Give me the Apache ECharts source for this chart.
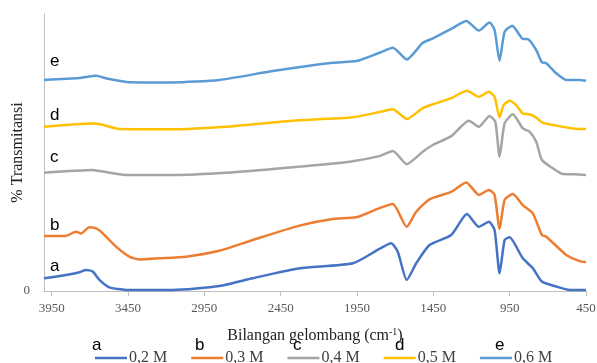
<!doctype html>
<html>
<head>
    <meta charset="utf-8">
    <title>ftir</title>
    <style>
        html,body{margin:0;padding:0;background:#fff;}
        #ID-Chart{width:597px;height:363px;}
    </style>
</head>
<body>
    <div id="ID-Chart"></div>
    <script src="https://cdn.jsdelivr.net/npm/echarts@6/dist/echarts.min.js"></script>
    <script>
        //数据 - bilangan gelombang / transmitansi per kurva
        var waveA=[4000,3856,3768,3725,3681,3637,3572,3462,3157,2851,2633,2327,1977,1803,1726,1683,1624,1562,1475,1333,1230,1152,1086,1049,1016,983,951,864,798,739,645,557,450];
        var transA=[4.6,5.8,6.8,7.6,7.0,4.0,1.3,0.4,0.4,1.8,4.6,8.2,10.0,15.2,17.2,14.2,4.0,10.0,16.6,20.2,27.8,23.2,25.0,22.0,6.4,18.4,19.4,11.8,8.2,3.4,1.6,0.4,0.4];

        var waveB=[4000,3856,3790,3757,3703,3659,3626,3528,3441,3376,3244,3069,2851,2633,2327,2109,1955,1803,1715,1624,1562,1475,1333,1234,1152,1086,1049,1016,983,929,864,798,739,710,579,492,450];
        var transB=[19.9,19.9,21.4,20.8,23.0,22.6,21.4,16.0,12.4,11.4,11.8,12.4,14.5,18.4,23.6,26.0,26.6,29.9,31.4,23.2,28.6,33.1,35.8,39.2,34.7,36.5,34.7,22.4,32.9,35.0,31.0,28.0,20.2,19.6,13.0,10.8,10.4];

        var waveC=[4000,3681,3637,3462,3157,2807,2392,1999,1803,1715,1624,1519,1453,1333,1217,1152,1082,1044,1016,983,929,864,820,776,739,667,601,492,450];
        var transC=[42.7,43.7,43.3,41.9,41.9,42.7,44.6,46.7,48.7,50.5,45.8,50.3,52.7,55.9,61.5,59.3,63.2,61.1,48.5,60.5,63.8,58.7,57.5,53.9,47.3,44.3,42.2,42.1,41.9];

        var waveD=[4000,3681,3637,3506,3157,2807,2392,1977,1803,1715,1624,1519,1453,1333,1230,1152,1086,1049,1016,990,951,907,864,820,776,736,645,536,450];
        var transD=[59.3,60.5,60.3,58.5,58.4,59.3,61.4,62.7,64.6,65.6,62.1,66.0,67.4,69.6,72.3,70.1,71.9,70.1,62.7,67.1,68.7,67.1,64.1,63.8,62.6,60.8,59.7,58.7,58.5];

        var waveE=[4000,3768,3659,3594,3441,3157,2851,2502,2109,1953,1803,1715,1624,1519,1453,1333,1234,1152,1082,1049,1016,983,933,864,831,776,739,710,645,579,492,450];
        var transE=[76.2,76.9,77.7,76.8,75.4,75.3,76.2,79.4,82.4,83.0,86.0,87.8,83.6,89.6,91.2,94.6,97.5,94.0,96.9,94.2,83.1,93.6,95.8,91.0,90.9,87.0,82.6,82.2,78.6,76.2,76.2,75.9];

        //nama seri, huruf kurva, warna
        var seriesNames=['0,2 M','0,3 M','0,4 M','0,5 M','0,6 M'];
        var curveLetters=['a','b','c','d','e'];
        var xTicks=[3950,3450,2950,2450,1950,1450,950,450];
        var colorList=['#4472C4','#ED7D31','#A5A5A5','#FFC000','#5B9BD5'];

        function pairs(xs,ys){
            var out=[];
            for(var i=0;i<xs.length;i++){ out.push([xs[i],ys[i]]); }
            return out;
        }
        var curves=[pairs(waveA,transA),pairs(waveB,transB),pairs(waveC,transC),pairs(waveD,transD),pairs(waveE,transE)];

        var chart=echarts.init(document.getElementById('ID-Chart'));

        var series=[];
        for(var i=0;i<curves.length;i++){
            series.push({
                name:seriesNames[i],
                type:'line',
                data:curves[i],
                symbol:'none',
                smooth:0.2,
                lineStyle:{width:2.5,color:colorList[i]},
                itemStyle:{color:colorList[i]}
            });
        }

        //huruf pada kurva (kiri) dan di atas legenda
        var curveLabelPos=[[55,268],[55,227],[55,159],[55,117],[55,63]];
        var legendLetterPos=[[97,347],[200,347],[298,347],[400,347],[500,347]];
        var graphics=[];
        for(var j=0;j<curveLetters.length;j++){
            graphics.push({type:'text',left:curveLabelPos[j][0]-5,top:curveLabelPos[j][1]-10,
                style:{text:curveLetters[j],font:'17px "Liberation Sans", sans-serif',fill:'#000'}});
            graphics.push({type:'text',left:legendLetterPos[j][0]-5,top:legendLetterPos[j][1]-10,
                style:{text:curveLetters[j],font:'17px "Liberation Sans", sans-serif',fill:'#000'}});
        }

        var option={
            animation:false,
            color:colorList,
            grid:{left:44,right:11,top:14,bottom:72,containLabel:false,outerBoundsMode:'none'},
            legend:{
                data:seriesNames,
                selectedMode:false,
                icon:'rect',
                left:90,
                top:345,
                itemWidth:32,
                itemHeight:2.5,
                itemGap:24,
                textStyle:{fontFamily:'"Liberation Serif", serif',fontSize:16,color:'#404040',padding:[0,0,0,-3]}
            },
            xAxis:{
                type:'value',
                inverse:true,
                min:450,
                max:4000,
                name:'{t|Bilangan gelombang (cm}{s|-1}{t|)}',
                nameLocation:'middle',
                nameGap:36,
                nameMoveOverlap:false,
                nameTextStyle:{
                    rich:{
                        t:{fontFamily:'"Liberation Serif", serif',fontSize:16,color:'#222'},
                        s:{fontFamily:'"Liberation Serif", serif',fontSize:10,color:'#222',verticalAlign:'top',padding:[0,0,8,0]}
                    }
                },
                axisLine:{show:true,lineStyle:{color:'#bfbfbf',width:1}},
                axisTick:{show:true,length:5,customValues:xTicks,lineStyle:{color:'#bfbfbf'}},
                axisLabel:{
                    customValues:xTicks,margin:11,
                    fontFamily:'"Liberation Serif", serif',fontSize:13,color:'#595959',
                    formatter:function(v){ return String(v); }
                },
                splitLine:{show:false}
            },
            yAxis:{
                type:'value',
                min:0,
                max:100,
                interval:100,
                name:'% Transmitansi',
                nameLocation:'middle',
                nameGap:18,
                nameMoveOverlap:false,
                nameTextStyle:{fontFamily:'"Liberation Serif", serif',fontSize:16,color:'#222'},
                axisLine:{show:true,lineStyle:{color:'#bfbfbf',width:1}},
                axisTick:{show:false},
                axisLabel:{
                    margin:14,
                    fontFamily:'"Liberation Serif", serif',fontSize:13,color:'#595959',
                    formatter:function(v){ return v===0?'0':''; }
                },
                splitLine:{show:false}
            },
            graphic:graphics,
            series:series
        };
        chart.setOption(option);
    </script>
</body>
</html>
